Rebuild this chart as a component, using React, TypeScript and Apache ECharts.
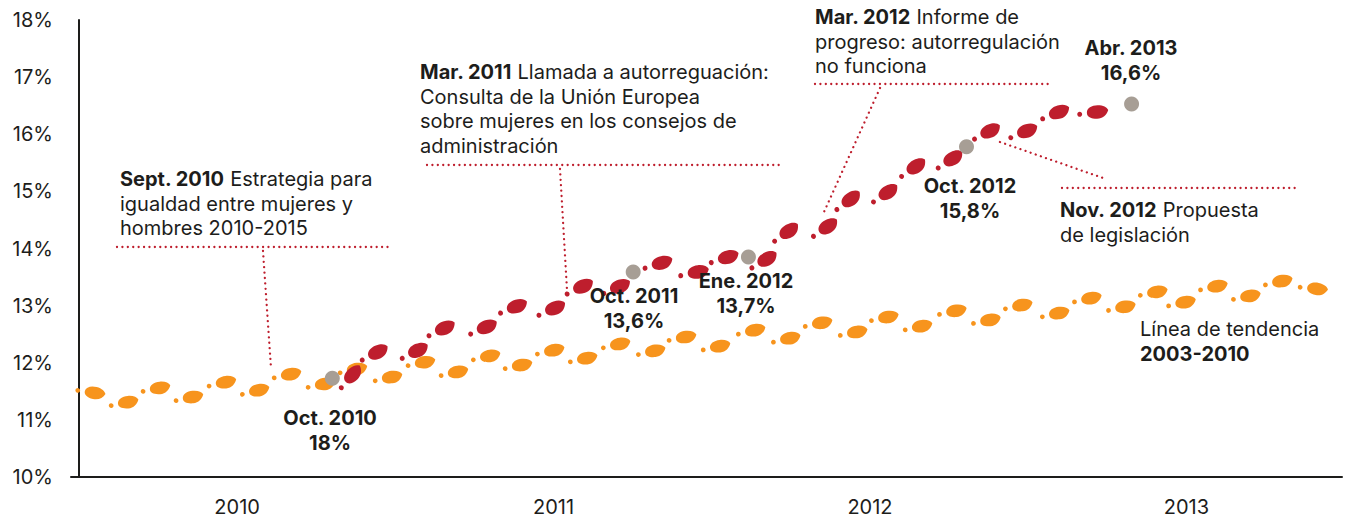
import React, { useEffect, useRef } from "react";
import * as echarts from "echarts";

// x = months since January 2010, y = percentage of women on boards
const yearLabels = ["2010", "2011", "2012", "2013"];
const yearLabelMonths = [6, 18, 30, 42];

const trendMonths = [0.61, 1.87, 3.08, 4.33, 5.58, 6.84, 8.05, 9.34, 10.55, 11.88, 13.13, 14.38, 15.6, 16.81, 18.03, 19.28, 20.53, 21.86, 23.03, 24.32, 25.65, 26.98, 28.19, 29.52, 30.7, 31.98, 33.28, 34.57, 35.78, 37.18, 38.4, 39.69, 40.9, 41.97, 43.18, 44.43, 45.64, 46.97];
const trendValues = [11.47, 11.31, 11.56, 11.4, 11.66, 11.52, 11.8, 11.63, 11.89, 11.75, 12.01, 11.84, 12.12, 11.96, 12.22, 12.08, 12.33, 12.21, 12.45, 12.29, 12.57, 12.43, 12.7, 12.54, 12.8, 12.64, 12.91, 12.75, 13.01, 12.87, 13.13, 12.98, 13.24, 13.06, 13.34, 13.17, 13.43, 13.29];

const actualMonths = [10.4, 11.35, 12.87, 13.89, 15.48, 16.62, 18.07, 19.13, 20.53, 22.12, 23.49, 24.63, 26.11, 26.94, 28.42, 29.29, 30.7, 31.76, 33.16, 34.57, 35.97, 37.18, 38.63];
const actualValues = [11.8, 12.19, 12.22, 12.61, 12.63, 12.99, 12.96, 13.34, 13.34, 13.75, 13.59, 13.85, 13.82, 14.31, 14.39, 14.87, 14.99, 15.44, 15.58, 16.06, 16.06, 16.39, 16.39];

const keyMonths = [9.61, 21.02, 25.39, 33.66, 39.92];
const keyValues = [11.73, 13.59, 13.85, 15.78, 16.53];

const X_MIN = -0.3;
const X_MAX = 47.9;
const GRID = { left: 71, right: 12, top: 20, bottom: 42 };
const W = 1354;
const H = 519;

const ORANGE = "#f7941d";
const RED = "#be1e2d";
const GREY = "#a79e95";
const INK = "#1d1d1b";
const FONT = "Inter, 'Liberation Sans', Arial, sans-serif";

// small heel dot + almond-shaped footprint, drawn along +x (box 29 x 12)
const FOOT =
  "path://M0,9 C0,7.73 1.03,6.7 2.3,6.7 C3.57,6.7 4.6,7.73 4.6,9 C4.6,10.27 3.57,11.3 2.3,11.3 C1.03,11.3 0,10.27 0,9 Z " +
  "M9,7.6 C9,3.6 13.5,1 19,1 C24.5,1 27.6,2.8 29,5.2 C27.6,9.6 23.8,13 18.6,13 C12.8,13 9,11.2 9,7.6 Z";
const FOOT_W = 29;
const LEAF_SHIFT = 4.5; // leaf centre minus box centre, in path units

function footprints(months: number[], values: number[], size: [number, number]) {
  const pxPerMonth = (W - GRID.left - GRID.right) / (X_MAX - X_MIN);
  const pxPerPct = (H - GRID.top - GRID.bottom) / 8;
  const shift = (LEAF_SHIFT * size[0]) / FOOT_W;
  return months.map((m, i) => {
    const p = Math.max(0, i - 1);
    const n = Math.min(months.length - 1, i + 1);
    const dx = (months[n] - months[p]) * pxPerMonth;
    const dy = (values[n] - values[p]) * pxPerPct;
    const ang = Math.atan2(dy, dx);
    return {
      value: [m, values[i]],
      symbolRotate: (ang * 180) / Math.PI,
      symbolOffset: [-shift * Math.cos(ang), shift * Math.sin(ang)],
    };
  });
}

const base = { fontFamily: FONT, fontSize: 20, fill: INK, lineHeight: 24.5 };
const rich = {
  b: { fontFamily: FONT, fontSize: 20, fill: INK, lineHeight: 24.5, fontWeight: "bold" as const },
};

function note(x: number, y: number, text: string, align: "left" | "center" = "left") {
  return {
    type: "text",
    x,
    y,
    z: 10,
    style: { ...base, text, rich, align, verticalAlign: "top" },
  };
}

function dotted(x1: number, y1: number, x2: number, y2: number) {
  return {
    type: "line",
    z: 9,
    shape: { x1, y1, x2, y2 },
    style: { stroke: RED, lineWidth: 2.3, lineCap: "round", lineDash: [0.01, 5.4] },
  };
}

const ORANGE_SIZE: [number, number] = [30, 12.5];
const RED_SIZE: [number, number] = [31, 13.5];

export default function App() {
  const ref = useRef<HTMLDivElement>(null);
  useEffect(() => {
    if (!ref.current) return;
    const chart = echarts.init(ref.current, null, { renderer: "svg" });
    chart.setOption({
      animation: false,
      grid: GRID,
      xAxis: {
        type: "value",
        min: X_MIN,
        max: X_MAX,
        axisLine: { show: true, lineStyle: { color: INK, width: 2 } },
        axisTick: { show: false },
        splitLine: { show: false },
        axisLabel: {
          customValues: yearLabelMonths,
          formatter: (v: number) => yearLabels[yearLabelMonths.indexOf(Math.round(v))] ?? "",
          fontFamily: FONT,
          fontSize: 20,
          color: INK,
          margin: 20,
        },
      },
      yAxis: {
        type: "value",
        min: 10,
        max: 18,
        interval: 1,
        axisLine: { show: true, lineStyle: { color: INK, width: 2 } },
        axisTick: { show: false },
        splitLine: { show: false },
        axisLabel: { formatter: "{value}%", fontFamily: FONT, fontSize: 20, color: INK, margin: 18 },
      },
      series: [
        {
          type: "scatter",
          name: "Línea de tendencia 2003-2010",
          symbol: FOOT,
          symbolSize: ORANGE_SIZE,
          itemStyle: { color: ORANGE, opacity: 1 },
          z: 2,
          data: footprints(trendMonths, trendValues, ORANGE_SIZE),
        },
        {
          type: "scatter",
          name: "Mujeres en consejos",
          symbol: FOOT,
          symbolSize: RED_SIZE,
          itemStyle: { color: RED, opacity: 1 },
          z: 3,
          data: footprints(actualMonths, actualValues, RED_SIZE),
        },
        {
          type: "scatter",
          name: "Hitos",
          symbol: "circle",
          symbolSize: 15,
          itemStyle: { color: GREY, opacity: 1 },
          z: 4,
          data: keyMonths.map((m, i) => [m, keyValues[i]]),
        },
      ],
      graphic: [
        dotted(117, 247, 390, 247),
        dotted(263, 251, 271, 368),
        dotted(427, 165, 780, 165),
        dotted(560, 169, 567, 290),
        dotted(815, 84, 1053, 84),
        dotted(880, 88, 824, 212),
        dotted(1062, 188, 1300, 188),
        dotted(1000, 142, 1103, 178),
        note(120, 167, "{b|Sept. 2010} Estrategia para\nigualdad entre mujeres y\nhombres 2010-2015"),
        note(420, 60, "{b|Mar. 2011} Llamada a autorreguación:\nConsulta de la Unión Europea\nsobre mujeres en los consejos de\nadministración"),
        note(815, 5, "{b|Mar. 2012} Informe de\nprogreso: autorregulación\nno funciona"),
        note(1131, 36, "{b|Abr. 2013}\n{b|16,6%}", "center"),
        note(970, 174, "{b|Oct. 2012}\n{b|15,8%}", "center"),
        note(1060, 198, "{b|Nov. 2012} Propuesta\nde legislación"),
        note(634, 284, "{b|Oct. 2011}\n{b|13,6%}", "center"),
        note(746, 269, "{b|Ene. 2012}\n{b|13,7%}", "center"),
        note(330, 406, "{b|Oct. 2010}\n{b|18%}", "center"),
        note(1140, 317, "Línea de tendencia\n{b|2003-2010}"),
      ],
    });
    return () => chart.dispose();
  }, []);
  return (
    <div
      ref={ref}
      style={{ position: "absolute", left: 0, top: 0, width: W, height: H, background: "#fff" }}
    />
  );
}
